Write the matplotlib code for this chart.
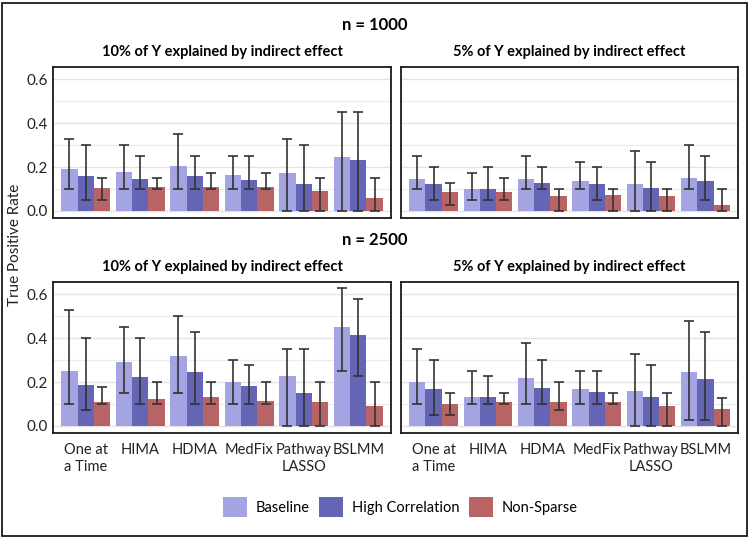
import matplotlib.pyplot as plt
import numpy as np
from matplotlib.patches import Patch, Rectangle

plt.rcParams['font.family'] = ['Lato', 'DejaVu Sans']

methods = ["One at\na Time", "HIMA", "HDMA", "MedFix", "Pathway\nLASSO", "BSLMM"]
scenarios = ["Baseline", "High Correlation", "Non-Sparse"]
colors = ["#A4A4E2", "#6565B6", "#B86464"]

# n = 1000, 10% explained
n1000_10_mean = [[0.192, 0.177, 0.203, 0.165, 0.173, 0.245],
                 [0.159, 0.145, 0.159, 0.141, 0.124, 0.232],
                 [0.103, 0.108, 0.110, 0.109, 0.091, 0.060]]
n1000_10_lo = [[0.10, 0.10, 0.10, 0.10, 0.0, 0.0],
               [0.05, 0.10, 0.10, 0.10, 0.0, 0.0],
               [0.05, 0.10, 0.10, 0.10, 0.0, 0.0]]
n1000_10_hi = [[0.327, 0.30, 0.35, 0.25, 0.327, 0.45],
               [0.30, 0.25, 0.25, 0.25, 0.30, 0.45],
               [0.15, 0.15, 0.175, 0.175, 0.15, 0.15]]

# n = 1000, 5% explained
n1000_5_mean = [[0.144, 0.100, 0.144, 0.136, 0.124, 0.150],
                [0.124, 0.100, 0.126, 0.121, 0.103, 0.136],
                [0.085, 0.086, 0.068, 0.073, 0.070, 0.026]]
n1000_5_lo = [[0.10, 0.05, 0.10, 0.10, 0.0, 0.10],
              [0.05, 0.05, 0.10, 0.05, 0.0, 0.05],
              [0.025, 0.05, 0.0, 0.0, 0.0, 0.0]]
n1000_5_hi = [[0.25, 0.175, 0.25, 0.225, 0.275, 0.30],
              [0.20, 0.20, 0.20, 0.20, 0.225, 0.25],
              [0.125, 0.15, 0.10, 0.10, 0.10, 0.10]]

# n = 2500, 10% explained
n2500_10_mean = [[0.252, 0.290, 0.320, 0.198, 0.226, 0.448],
                 [0.185, 0.223, 0.246, 0.180, 0.152, 0.413],
                 [0.110, 0.122, 0.130, 0.115, 0.107, 0.089]]
n2500_10_lo = [[0.10, 0.15, 0.15, 0.10, 0.0, 0.25],
               [0.072, 0.10, 0.10, 0.10, 0.0, 0.226],
               [0.10, 0.10, 0.10, 0.10, 0.0, 0.0]]
n2500_10_hi = [[0.528, 0.45, 0.50, 0.30, 0.35, 0.627],
               [0.40, 0.40, 0.428, 0.277, 0.35, 0.576],
               [0.176, 0.20, 0.20, 0.20, 0.20, 0.20]]

# n = 2500, 5% explained
n2500_5_mean = [[0.200, 0.134, 0.219, 0.169, 0.160, 0.247],
                [0.169, 0.130, 0.172, 0.154, 0.134, 0.213],
                [0.100, 0.107, 0.110, 0.107, 0.092, 0.075]]
n2500_5_lo = [[0.10, 0.10, 0.10, 0.10, 0.0, 0.026],
              [0.05, 0.10, 0.10, 0.10, 0.0, 0.026],
              [0.05, 0.10, 0.074, 0.10, 0.0, 0.0]]
n2500_5_hi = [[0.35, 0.25, 0.377, 0.25, 0.327, 0.478],
              [0.30, 0.228, 0.30, 0.25, 0.277, 0.427],
              [0.15, 0.15, 0.20, 0.15, 0.15, 0.127]]

panels = [
    (n1000_10_mean, n1000_10_lo, n1000_10_hi),
    (n1000_5_mean, n1000_5_lo, n1000_5_hi),
    (n2500_10_mean, n2500_10_lo, n2500_10_hi),
    (n2500_5_mean, n2500_5_lo, n2500_5_hi),
]
subtitles = ["10% of Y explained by indirect effect", "5% of Y explained by indirect effect"]

W, H = 750, 538
fig = plt.figure(figsize=(7.5, 5.38), dpi=100)

def px_axes(x0, y0, x1, y1):
    return fig.add_axes([x0 / W, 1 - y1 / H, (x1 - x0) / W, (y1 - y0) / H])

boxes = [(53, 67, 391, 218), (401, 67, 738, 218),
         (53, 282, 391, 433), (401, 282, 738, 433)]

x = np.arange(len(methods))
bw = 0.3
for k, (mean, lo, hi) in enumerate(panels):
    ax = px_axes(*boxes[k])
    for s in range(3):
        m = np.array(mean[s])
        xs = x + (s - 1) * bw
        ax.bar(xs, m, width=bw, color=colors[s], zorder=2)
        err = [m - np.array(lo[s]), np.array(hi[s]) - m]
        ax.errorbar(xs, m, yerr=err, fmt='none', ecolor='#333333',
                    elinewidth=1.2, capsize=3.3, capthick=1.2, zorder=3)
    ax.set_xlim(-0.6, 5.6)
    ax.set_ylim(-0.032, 0.655)
    ax.set_yticks([0, 0.2, 0.4, 0.6])
    ax.set_yticks([0.1, 0.3, 0.5], minor=True)
    ax.grid(True, which='major', axis='y', color='#E3E3E3', lw=1.0, zorder=0)
    ax.grid(True, which='minor', axis='y', color='#EDEDED', lw=0.9, zorder=0)
    ax.set_axisbelow(True)
    ax.tick_params(which='both', length=0, labelsize=11, colors='#222222')
    if k % 2 == 0:
        ax.set_yticklabels(["0.0", "0.2", "0.4", "0.6"])
    else:
        ax.set_yticklabels([])
    ax.set_xticks(x)
    if k >= 2:
        ax.set_xticklabels(methods, fontsize=10.5, linespacing=1.3)
        ax.tick_params(axis='x', pad=7)
    else:
        ax.set_xticklabels([])
    for sp in ax.spines.values():
        sp.set_linewidth(1.3)
        sp.set_color('#1a1a1a')
    ax.set_title(subtitles[k % 2], fontsize=10.5, fontweight='bold', pad=8)

fig.text(375 / W, 1 - 25 / H, "n = 1000", ha='center', va='center',
         fontsize=12, fontweight='bold')
fig.text(375 / W, 1 - 240 / H, "n = 2500", ha='center', va='center',
         fontsize=12, fontweight='bold')
fig.text(15 / W, 1 - 245 / H, "True Positive Rate", ha='center', va='center',
         rotation=90, fontsize=11, color='#222222')

handles = [Patch(facecolor=c, label=l) for c, l in zip(colors, scenarios)]
fig.legend(handles=handles, loc='center', bbox_to_anchor=(400 / W, 1 - 507 / H),
           ncol=3, frameon=False, fontsize=10.5, handlelength=1.65,
           handleheight=1.8, columnspacing=0.65, handletextpad=0.6)

fig.add_artist(Rectangle((2 / W, 2 / H), 745 / W, 533 / H, transform=fig.transFigure,
                         fill=False, edgecolor='#1a1a1a', lw=1.3))

fig.savefig("out.png", dpi=100)
